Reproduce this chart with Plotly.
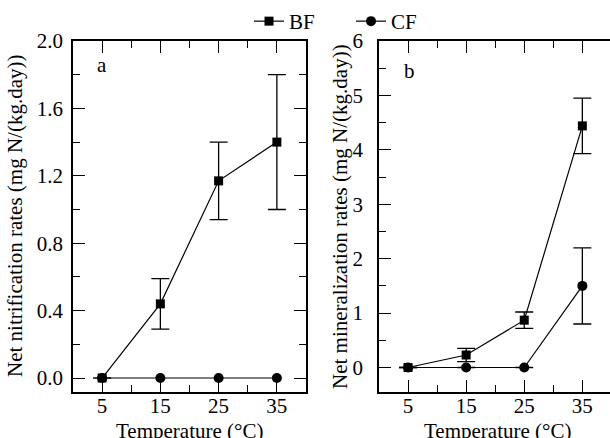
import plotly.graph_objects as go

temps = [5, 15, 25, 35]
# panel a: net nitrification
bf_nit = [0.0, 0.44, 1.17, 1.40]
bf_nit_err = [None, 0.15, 0.23, 0.40]
cf_nit = [0.0, 0.0, 0.0, 0.0]
# panel b: net mineralization
bf_min = [0.0, 0.23, 0.87, 4.44]
bf_min_err = [None, 0.12, 0.15, 0.51]
cf_min = [0.0, 0.0, 0.0, 1.50]
cf_min_err = [None, None, None, 0.70]

W, H = 610, 438
FONT = "Liberation Serif, Times New Roman, serif"
FS = 21

fig = go.Figure()

def add(x, y, err, name, symbol, size, xa, ya, show):
    fig.add_trace(go.Scatter(
        x=x, y=y, name=name, mode="lines+markers",
        line=dict(color="black", width=1.2),
        marker=dict(symbol=symbol, size=size, color="black"),
        error_y=dict(type="data", array=err, visible=err is not None,
                     color="black", thickness=1.3, width=9),
        xaxis=xa, yaxis=ya, showlegend=show,
    ))

add(temps, bf_nit, bf_nit_err, "BF", "square", 9, "x", "y", True)
add(temps, cf_nit, None, "CF", "circle", 10, "x", "y", True)
add(temps, bf_min, bf_min_err, "BF", "square", 9, "x2", "y2", False)
add(temps, cf_min, cf_min_err, "CF", "circle", 10, "x2", "y2", False)

TF = dict(family=FONT, size=FS, color="black")
ydom = [46 / H, 397 / H]
common_x = dict(
    tickmode="array", tickvals=[5, 15, 25, 35], ticks="inside", ticklen=12,
    tickwidth=1.3, tickcolor="black", showline=True, linecolor="black",
    linewidth=1.8, showgrid=False, zeroline=False, ticklabelstandoff=-6,
    tickfont=TF,
    minor=dict(tickvals=[10, 20, 30], ticks="inside", ticklen=7,
               tickwidth=1.3, tickcolor="black"),
)
fig.update_layout(
    width=W, height=H, margin=dict(l=0, r=0, t=0, b=0, autoexpand=False),
    paper_bgcolor="white", plot_bgcolor="white",
    font=TF,
    xaxis=dict(domain=[73 / W, 306 / W], range=[0, 40], mirror="ticks",
               anchor="y", **common_x),
    xaxis2=dict(domain=[379 / W, 1.0], range=[0, 231 / 5.81], mirror="ticks",
                anchor="y2", **common_x),
    yaxis=dict(domain=ydom, range=[-0.083, 2.0], anchor="x",
               tickmode="linear", tick0=0, dtick=0.4, tickformat=".1f",
               ticks="inside", ticklen=12, tickwidth=1.3, tickcolor="black",
               showline=True, linecolor="black", linewidth=1.8, mirror="ticks",
               showgrid=False, zeroline=False, ticklabelstandoff=4,
               tickfont=TF,
               minor=dict(tick0=0, dtick=0.2, ticks="inside", ticklen=7,
                          tickwidth=1.3, tickcolor="black")),
    yaxis2=dict(domain=ydom, range=[-0.45, 6.0], anchor="x2",
                tickmode="linear", tick0=0, dtick=1,
                ticks="inside", ticklen=12, tickwidth=1.3, tickcolor="black",
                showline=True, linecolor="black", linewidth=1.8, mirror=False,
                showgrid=False, zeroline=False, ticklabelstandoff=10,
                tickfont=TF,
                minor=dict(tick0=0, dtick=0.5, ticks="inside", ticklen=7,
                           tickwidth=1.3, tickcolor="black")),
    legend=dict(orientation="h", x=249 / W, xanchor="left", xref="container",
                y=1 - 1 / H, yanchor="top", yref="container",
                entrywidth=57, entrywidthmode="pixels",
                font=TF, bgcolor="rgba(0,0,0,0)", itemsizing="trace",
                tracegroupgap=0),
    annotations=[
        dict(text="Net nitrification rates (mg N/(kg.day))", x=15 / W, y=222 / H,
             xref="paper", yref="paper", textangle=-90, showarrow=False,
             xanchor="center", yanchor="middle", font=TF),
        dict(text="Net mineralization rates (mg N/(kg.day))", x=340 / W, y=222 / H,
             xref="paper", yref="paper", textangle=-90, showarrow=False,
             xanchor="center", yanchor="middle", font=TF),
        dict(text="Temperature (°C)", x=189 / W, y=1 - 431 / H, xref="paper",
             yref="paper", showarrow=False, xanchor="center", yanchor="middle",
             font=TF),
        dict(text="Temperature (°C)", x=497 / W, y=1 - 431 / H, xref="paper",
             yref="paper", showarrow=False, xanchor="center", yanchor="middle",
             font=TF),
        dict(text="a", x=5, y=1.86, xref="x", yref="y", showarrow=False,
             xanchor="center", yanchor="middle", font=TF),
        dict(text="b", x=5.3, y=5.45, xref="x2", yref="y2", showarrow=False,
             xanchor="center", yanchor="middle", font=TF),
    ],
)

fig.write_html("out.html")
